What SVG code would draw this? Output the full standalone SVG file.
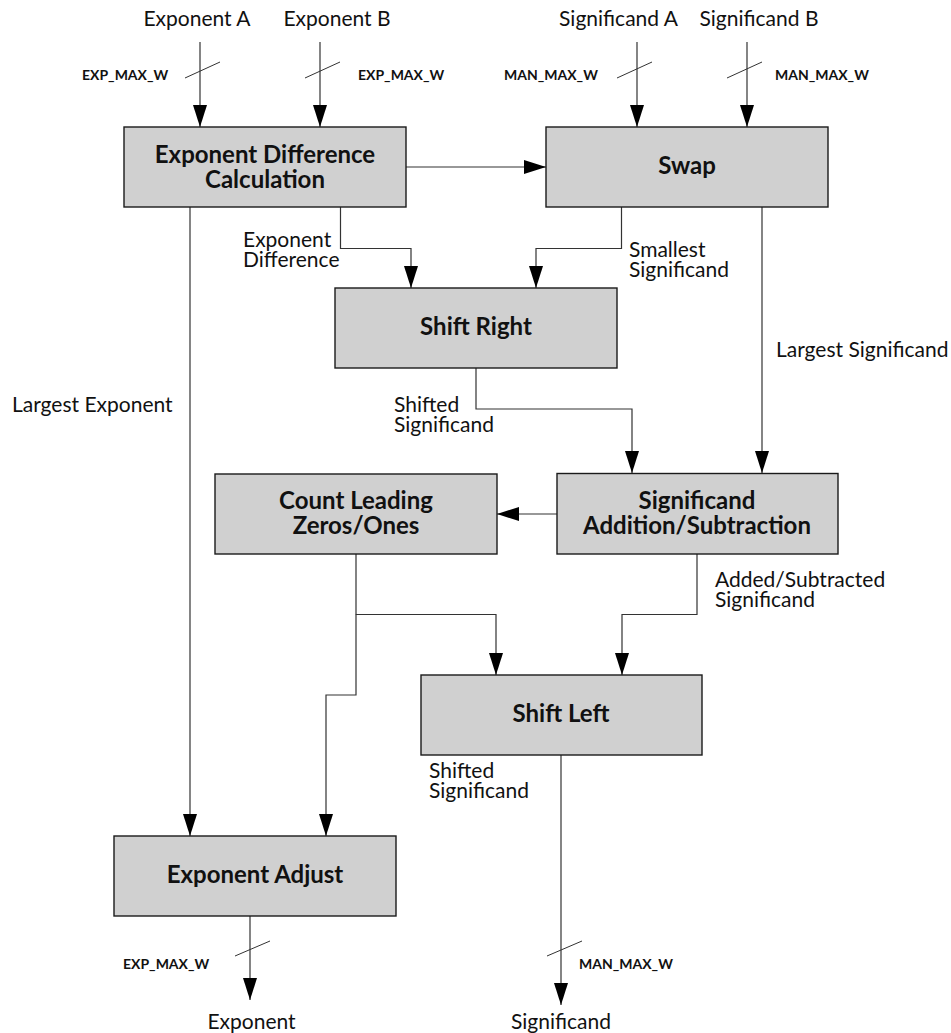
<svg xmlns="http://www.w3.org/2000/svg" width="951" height="1033" viewBox="0 0 951 1033">
<style>
.box{fill:#d0d0d0;stroke:#1a1a1a;stroke-width:1.4}
.t{font-family:Lato,"Liberation Sans",sans-serif;font-weight:bold;font-size:24px;fill:#111;text-anchor:middle}
.l{font-family:Lato,"Liberation Sans",sans-serif;font-size:21px;fill:#111}
.s{font-family:Lato,"Liberation Sans",sans-serif;font-weight:bold;font-size:14px;fill:#111}
.c{fill:none;stroke:#333;stroke-width:1.2}
.sl{stroke:#333;stroke-width:1}
</style>
<defs>
<marker id="ah" viewBox="0 0 22 14" refX="22" refY="7" markerWidth="22" markerHeight="14" markerUnits="userSpaceOnUse" orient="auto">
<path d="M0,0 L22,7 L0,14 z" fill="#000"/>
</marker>
</defs>
<rect width="951" height="1033" fill="#fff"/>
<g id="connectors">
<path class="c" d="M200,42 V127" marker-end="url(#ah)"/>
<path class="c" d="M320,42 V127" marker-end="url(#ah)"/>
<path class="c" d="M637,42 V127" marker-end="url(#ah)"/>
<path class="c" d="M747,42 V127" marker-end="url(#ah)"/>
<line class="sl" x1="185" y1="78" x2="220" y2="62"/>
<line class="sl" x1="305" y1="78" x2="340" y2="62"/>
<line class="sl" x1="617" y1="78" x2="652" y2="62"/>
<line class="sl" x1="727" y1="78" x2="762" y2="62"/>
<path class="c" d="M406,167 H546" marker-end="url(#ah)"/>
<path class="c" d="M340.5,207 V248.5 H411 V288" marker-end="url(#ah)"/>
<path class="c" d="M621.5,207 V248.5 H536 V288" marker-end="url(#ah)"/>
<path class="c" d="M190,207 V836" marker-end="url(#ah)"/>
<path class="c" d="M762,207 V473" marker-end="url(#ah)"/>
<path class="c" d="M476,368 V409 H632 V473" marker-end="url(#ah)"/>
<path class="c" d="M557,514 H497" marker-end="url(#ah)"/>
<path class="c" d="M356,554 V614.5 H496 V675" marker-end="url(#ah)"/>
<path class="c" d="M356,614.5 V695 H326 V836" marker-end="url(#ah)"/>
<path class="c" d="M697,554 V614.5 H622 V675" marker-end="url(#ah)"/>
<path class="c" d="M250,916 V1000" marker-end="url(#ah)"/>
<path class="c" d="M561,755 V1005" marker-end="url(#ah)"/>
<line class="sl" x1="235" y1="956" x2="270" y2="941"/>
<line class="sl" x1="547" y1="956" x2="582" y2="941"/>
</g>
<g id="labels">
<text class="l" x="197" y="26" text-anchor="middle">Exponent A</text>
<text class="l" x="337" y="26" text-anchor="middle">Exponent B</text>
<text class="l" x="618.5" y="26" text-anchor="middle">Significand A</text>
<text class="l" x="759" y="26" text-anchor="middle">Significand B</text>
<text class="s" x="82" y="80">EXP_MAX_W</text>
<text class="s" x="358" y="80">EXP_MAX_W</text>
<text class="s" x="504" y="80">MAN_MAX_W</text>
<text class="s" x="775" y="80">MAN_MAX_W</text>
<text class="l" x="243" y="246.7">Exponent</text>
<text class="l" x="243" y="266.7">Difference</text>
<text class="l" x="629" y="257.3">Smallest</text>
<text class="l" x="629" y="277.3">Significand</text>
<text class="l" x="776" y="356.7">Largest Significand</text>
<text class="l" x="12" y="411.7">Largest Exponent</text>
<text class="l" x="394" y="411.7">Shifted</text>
<text class="l" x="394" y="431.7">Significand</text>
<text class="l" x="715" y="587.3">Added/Subtracted</text>
<text class="l" x="715" y="607.3">Significand</text>
<text class="l" x="429" y="778.3">Shifted</text>
<text class="l" x="429" y="798.3">Significand</text>
<text class="s" x="123" y="969.3">EXP_MAX_W</text>
<text class="s" x="579" y="969.3">MAN_MAX_W</text>
<text class="l" x="251.5" y="1029" text-anchor="middle">Exponent</text>
<text class="l" x="561" y="1029" text-anchor="middle">Significand</text>
</g>
<g id="exp-diff">
<rect class="box" x="124" y="127" width="282" height="80"/>
<text class="t" x="265" y="163">Exponent Difference</text>
<text class="t" x="265" y="188">Calculation</text>
</g>
<g id="swap">
<rect class="box" x="546" y="127" width="282" height="80"/>
<text class="t" x="687" y="174">Swap</text>
</g>
<g id="shift-right">
<rect class="box" x="335" y="288" width="282" height="80"/>
<text class="t" x="476" y="335">Shift Right</text>
</g>
<g id="clz">
<rect class="box" x="215" y="474" width="282" height="80"/>
<text class="t" x="356" y="509">Count Leading</text>
<text class="t" x="356" y="534">Zeros/Ones</text>
</g>
<g id="sig-addsub">
<rect class="box" x="557" y="473.5" width="281" height="80.5"/>
<text class="t" x="697" y="508.5">Significand</text>
<text class="t" x="697" y="533.5">Addition/Subtraction</text>
</g>
<g id="shift-left">
<rect class="box" x="421" y="675" width="281" height="80"/>
<text class="t" x="561" y="722">Shift Left</text>
</g>
<g id="exp-adjust">
<rect class="box" x="114" y="836" width="282" height="80"/>
<text class="t" x="255" y="883">Exponent Adjust</text>
</g>
</svg>
